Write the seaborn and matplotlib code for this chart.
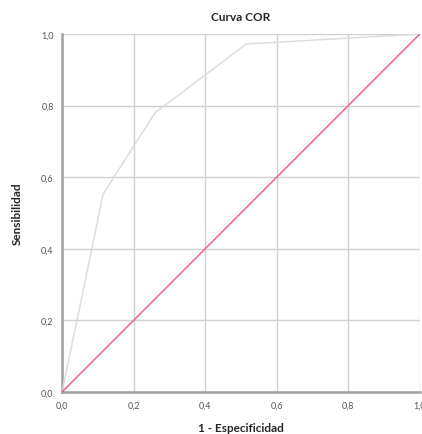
import matplotlib
matplotlib.use("Agg")
import matplotlib.pyplot as plt
import seaborn as sns
import pandas as pd

# ROC curve points
fpr = [0.0, 0.115, 0.26, 0.515, 1.0]
tpr = [0.0, 0.553, 0.78, 0.972, 1.0]
ref = [0.0, 1.0]
ticks = [0.0, 0.2, 0.4, 0.6, 0.8, 1.0]
tick_labels = ["0,0", "0,2", "0,4", "0,6", "0,8", "1,0"]

sns.set_style("white")
plt.rcParams["font.family"] = ["Lato", "DejaVu Sans"]

fig = plt.figure(figsize=(4.22, 4.35), dpi=100)
ax = fig.add_axes([0.147, 0.0966, 0.848, 0.823])

curve = pd.DataFrame({"x": fpr, "y": tpr})
diag = pd.DataFrame({"x": ref, "y": ref})
sns.lineplot(data=curve, x="x", y="y", ax=ax, color="#dcdcdc", linewidth=1.1, sort=False, zorder=3)
sns.lineplot(data=diag, x="x", y="y", ax=ax, color="#ea5878", linewidth=1.0, zorder=4)

ax.set_xlim(0, 1)
ax.set_ylim(0, 1)
ax.set_xticks(ticks)
ax.set_yticks(ticks)
ax.set_xticklabels(tick_labels)
ax.set_yticklabels(tick_labels)
ax.tick_params(axis="both", labelsize=6.5, colors="#555555", length=0)
ax.tick_params(axis="x", pad=6)
ax.tick_params(axis="y", pad=6)
ax.grid(True, color="#d0d0d0", linewidth=1.0)
ax.set_axisbelow(True)

for side in ["top", "right"]:
    ax.spines[side].set_visible(False)
for side in ["left", "bottom"]:
    ax.spines[side].set_color("#a0a0a0")
    ax.spines[side].set_linewidth(1.8)

ax.set_title("Curva COR", fontsize=8.5, fontweight="bold", pad=10)
ax.set_xlabel("1 - Especificidad", fontsize=8.5, fontweight="bold", labelpad=9)
ax.set_ylabel("Sensibilidad", fontsize=8.5, fontweight="bold", labelpad=13)

fig.savefig("out.png", dpi=100, facecolor="white")
